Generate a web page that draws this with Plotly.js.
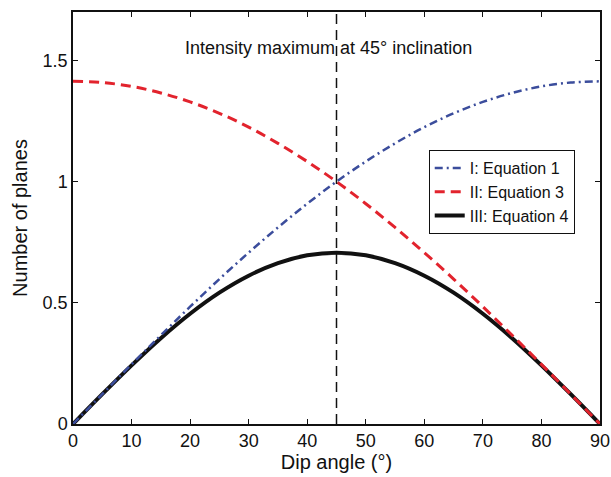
<!DOCTYPE html>
<html><head><meta charset="utf-8">
<script src="https://cdn.plot.ly/plotly-3.0.1.min.js"></script>
<style>body{margin:0;background:#fff}#chart{width:611px;height:477px}</style>
</head><body><div id="chart"></div>
<script>
var dipAngle = [0,5,10,15,20,25,30,35,40,45,50,55,60,65,70,75,80,85,90];
var eq1 = [0,0.123,0.246,0.366,0.484,0.598,0.707,0.811,0.909,1.0,1.083,1.158,1.225,1.282,1.329,1.366,1.393,1.409,1.414];
var eq3 = [1.414,1.409,1.393,1.366,1.329,1.282,1.225,1.158,1.083,1.0,0.909,0.811,0.707,0.598,0.484,0.366,0.246,0.123,0];
var eq4 = [0,0.123,0.242,0.354,0.455,0.542,0.612,0.664,0.696,0.707,0.696,0.664,0.612,0.542,0.455,0.354,0.242,0.123,0];
var seriesNames = ['I: Equation 1','II: Equation 3','III: Equation 4'];
var xTicks = [0,10,20,30,40,50,60,70,80,90];
var yTicks = [0,0.5,1,1.5];
var yTickText = ['0','0.5','1','1.5'];
var markerAngle = 45;
var noteText = 'Intensity maximum at 45\u00b0 inclination';

var traces = [
  {x: dipAngle, y: eq4, name: seriesNames[2], legendrank:3, mode:'lines', line:{color:'#111111', width:4, shape:'spline'}},
  {x: dipAngle, y: eq1, name: seriesNames[0], legendrank:1, mode:'lines', line:{color:'#3b4d9c', width:2.5, dash:'8px,4px,2px,4px', shape:'spline'}},
  {x: dipAngle, y: eq3, name: seriesNames[1], legendrank:2, mode:'lines', line:{color:'#e2232d', width:3, dash:'10px,6px', shape:'spline'}}
];
var axisCommon = {showgrid:false, zeroline:false, showline:true, linecolor:'#111', linewidth:1.5, mirror:'ticks', ticks:'inside', ticklen:5, tickwidth:1, tickcolor:'#111', tickfont:{size:18, color:'#111'}};
var layout = {
  width:611, height:477,
  margin:{l:73, r:11, t:12, b:53},
  paper_bgcolor:'#fff', plot_bgcolor:'#fff',
  font:{family:'"Liberation Sans", Arial, sans-serif', color:'#111'},
  xaxis: Object.assign({}, axisCommon, {range:[0,90], tickvals:xTicks, title:{text:'Dip angle (\u00b0)', font:{size:20}, standoff:5}}),
  yaxis: Object.assign({}, axisCommon, {range:[0,1.7], tickvals:yTicks, ticktext:yTickText, title:{text:'Number of planes', font:{size:20}, standoff:10}}),
  showlegend:true,
  legend:{x:0.675, y:0.665, xanchor:'left', yanchor:'top', bgcolor:'#fff', bordercolor:'#111', borderwidth:1, font:{size:16}, tracegroupgap:0, traceorder:'normal'},
  shapes:[{type:'line', xref:'x', yref:'paper', x0:markerAngle, x1:markerAngle, y0:0, y1:1, line:{color:'#111', width:1.5, dash:'10px,6px'}}],
  annotations:[{xref:'paper', yref:'paper', x:0.484, y:0.913, xanchor:'center', yanchor:'middle', text:noteText, showarrow:false, font:{size:18, color:'#111'}}]
};
Plotly.newPlot('chart', traces, layout, {displayModeBar:false});
</script></body></html>
